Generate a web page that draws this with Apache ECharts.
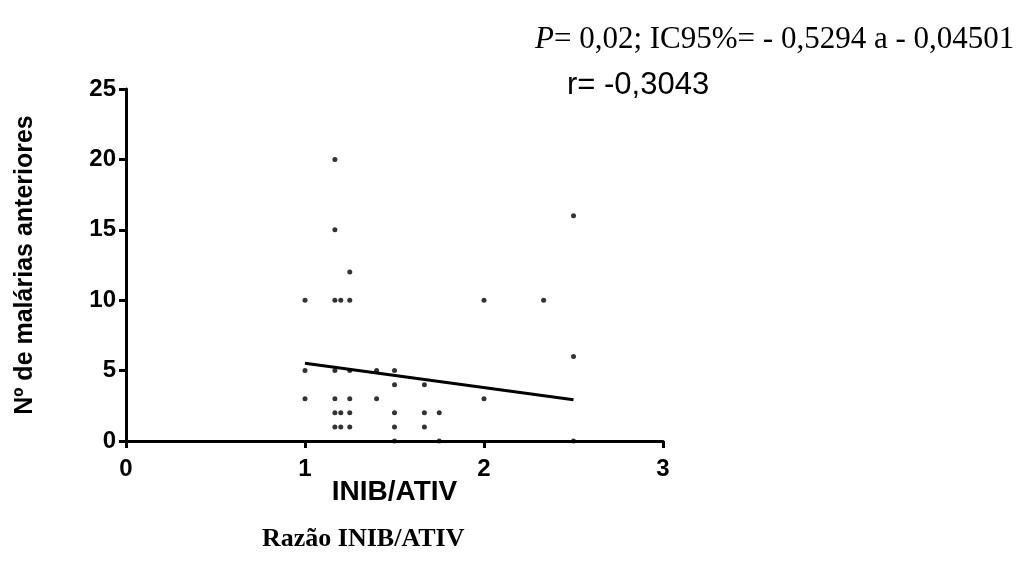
<!DOCTYPE html>
<html>
<head>
<meta charset="utf-8">
<script src="https://cdn.jsdelivr.net/npm/echarts@6/dist/echarts.min.js"></script>
<style>
  html, body { margin: 0; padding: 0; background: #fff; }
  #chart { width: 1019px; height: 566px; }
</style>
</head>
<body>
<div id="chart"></div>
<script>
// razão INIB/ATIV x nº de malárias anteriores
const ratioX = [1, 1, 1,
  1.167, 1.167, 1.167, 1.167, 1.167, 1.167, 1.167,
  1.2, 1.2, 1.2,
  1.25, 1.25, 1.25, 1.25, 1.25, 1.25,
  1.4, 1.4,
  1.5, 1.5, 1.5, 1.5, 1.5,
  1.667, 1.667, 1.667,
  1.75, 1.75,
  2, 2,
  2.333,
  2.5, 2.5, 2.5];
const malariasY = [10, 5, 3,
  20, 15, 10, 5, 3, 2, 1,
  10, 2, 1,
  12, 10, 5, 3, 2, 1,
  5, 3,
  5, 4, 2, 1, 0,
  4, 2, 1,
  2, 0,
  10, 3,
  10,
  16, 6, 0];

// reta de regressão (extremos)
const fitX = [1, 2.5];
const fitY = [5.52, 2.93];

const xTicks = [0, 1, 2, 3];
const yTicks = [0, 5, 10, 15, 20, 25];

const statsText = '{i|P}= 0,02; IC95%= - 0,5294 a - 0,04501';
const rText = 'r= -0,3043';
const bottomTitle = 'Razão INIB/ATIV';

const chart = echarts.init(document.getElementById('chart'));

const points = ratioX.map((x, i) => [x, malariasY[i]]);
const fitLine = fitX.map((x, i) => [x, fitY[i]]);

const axisFont = {
  color: '#000',
  fontFamily: 'Liberation Sans, Arial, sans-serif',
  fontWeight: 'bold',
  fontSize: 24
};

const option = {
  animation: false,
  backgroundColor: '#fff',
  grid: { left: 126, right: 356, top: 89, bottom: 125 },
  xAxis: {
    type: 'value',
    min: xTicks[0],
    max: xTicks[xTicks.length - 1],
    interval: 1,
    name: 'INIB/ATIV',
    nameLocation: 'middle',
    nameGap: 37,
    nameMoveOverlap: false,
    nameTextStyle: Object.assign({}, axisFont, { fontSize: 28 }),
    axisLine: { show: true, onZero: false, lineStyle: { color: '#000', width: 3 } },
    axisTick: { show: true, length: 7, lineStyle: { color: '#000', width: 3 } },
    axisLabel: Object.assign({}, axisFont, { margin: 16 }),
    splitLine: { show: false }
  },
  yAxis: {
    type: 'value',
    min: yTicks[0],
    max: yTicks[yTicks.length - 1],
    interval: 5,
    name: 'Nº de malárias anteriores',
    nameLocation: 'middle',
    nameGap: 88,
    nameMoveOverlap: false,
    nameTextStyle: Object.assign({}, axisFont, { fontSize: 25 }),
    axisLine: { show: true, onZero: false, lineStyle: { color: '#000', width: 3 } },
    axisTick: { show: true, length: 7, lineStyle: { color: '#000', width: 3 } },
    axisLabel: Object.assign({}, axisFont, { margin: 10 }),
    splitLine: { show: false }
  },
  graphic: [
    {
      type: 'text',
      left: 535,
      top: 24,
      style: {
        text: statsText,
        fill: '#000',
        fontFamily: '"Liberation Serif", "Times New Roman", serif',
        fontSize: 31,
        rich: {
          i: { fontStyle: 'italic', fontFamily: '"Liberation Serif", "Times New Roman", serif', fontSize: 31 }
        }
      }
    },
    {
      type: 'text',
      left: 567,
      top: 70,
      style: {
        text: rText,
        fill: '#000',
        font: '31px "Liberation Sans", Arial, sans-serif'
      }
    },
    {
      type: 'text',
      left: 262,
      top: 526,
      style: {
        text: bottomTitle,
        fill: '#000',
        font: 'bold 26px "Liberation Serif", "Times New Roman", serif'
      }
    }
  ],
  series: [
    {
      type: 'scatter',
      data: points,
      symbol: 'circle',
      symbolSize: 5,
      itemStyle: { color: '#000' },
      z: 3
    },
    {
      type: 'line',
      data: fitLine,
      symbol: 'none',
      lineStyle: { color: '#000', width: 3 },
      z: 2
    }
  ]
};

chart.setOption(option);
</script>
</body>
</html>
